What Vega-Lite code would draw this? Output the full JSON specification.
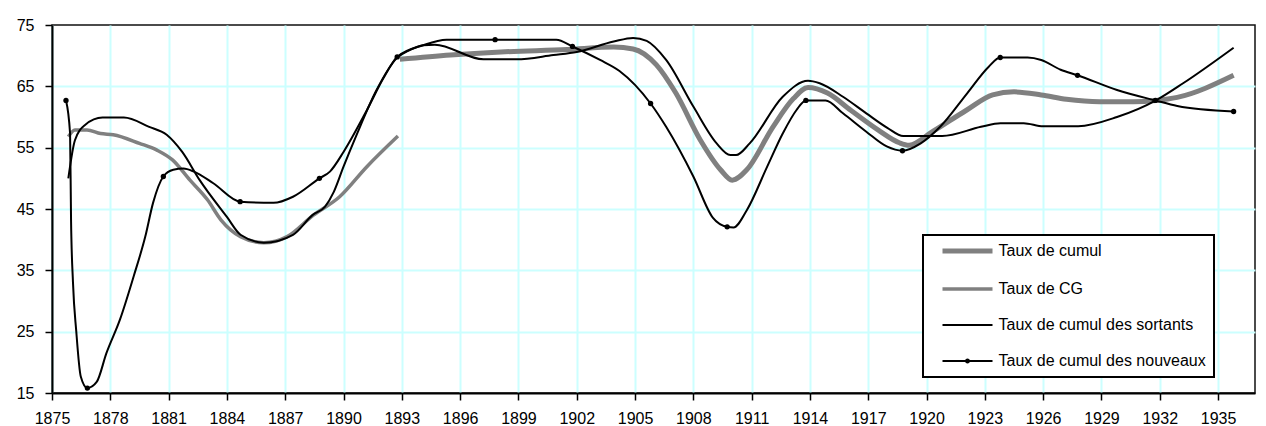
{
  "$schema": "https://vega.github.io/schema/vega-lite/v6.json",
  "width": 1203,
  "height": 368,
  "autosize": {"type": "none"},
  "padding": {"left": 52, "top": 25, "right": 11, "bottom": 33},
  "background": "white",
  "config": {
    "font": "Liberation Sans",
    "view": {"stroke": "#111111", "strokeWidth": 1.5},
    "axis": {
      "grid": true,
      "gridColor": "#ccffff",
      "gridWidth": 2,
      "domainColor": "#000000",
      "domainWidth": 2,
      "tickColor": "#000000",
      "tickSize": 7,
      "tickWidth": 1.5,
      "labelFontSize": 16,
      "labelColor": "#000000",
      "labelFont": "Liberation Sans",
      "title": null
    }
  },
  "datasets": {
    "series": [
      {"serie": "Taux de cumul", "annee": 1892.9, "taux": 69.4},
      {"serie": "Taux de cumul", "annee": 1895.5, "taux": 70.1},
      {"serie": "Taux de cumul", "annee": 1898.1, "taux": 70.6},
      {"serie": "Taux de cumul", "annee": 1901.5, "taux": 71.0},
      {"serie": "Taux de cumul", "annee": 1903.9, "taux": 71.4},
      {"serie": "Taux de cumul", "annee": 1904.9, "taux": 71.1},
      {"serie": "Taux de cumul", "annee": 1906.1, "taux": 68.5},
      {"serie": "Taux de cumul", "annee": 1907.1, "taux": 63.9},
      {"serie": "Taux de cumul", "annee": 1908.35, "taux": 56.3},
      {"serie": "Taux de cumul", "annee": 1909.4, "taux": 51.4},
      {"serie": "Taux de cumul", "annee": 1910.0, "taux": 49.7},
      {"serie": "Taux de cumul", "annee": 1910.75, "taux": 51.4},
      {"serie": "Taux de cumul", "annee": 1912.1, "taux": 58.4},
      {"serie": "Taux de cumul", "annee": 1913.15, "taux": 63.0},
      {"serie": "Taux de cumul", "annee": 1913.9, "taux": 64.8},
      {"serie": "Taux de cumul", "annee": 1914.9, "taux": 63.9},
      {"serie": "Taux de cumul", "annee": 1916.1, "taux": 61.1},
      {"serie": "Taux de cumul", "annee": 1917.5, "taux": 57.9},
      {"serie": "Taux de cumul", "annee": 1918.6, "taux": 55.8},
      {"serie": "Taux de cumul", "annee": 1919.1, "taux": 55.4},
      {"serie": "Taux de cumul", "annee": 1920.3, "taux": 57.6},
      {"serie": "Taux de cumul", "annee": 1922.05, "taux": 61.1},
      {"serie": "Taux de cumul", "annee": 1923.4, "taux": 63.6},
      {"serie": "Taux de cumul", "annee": 1924.5, "taux": 64.1},
      {"serie": "Taux de cumul", "annee": 1925.9, "taux": 63.6},
      {"serie": "Taux de cumul", "annee": 1927.2, "taux": 62.9},
      {"serie": "Taux de cumul", "annee": 1928.9, "taux": 62.5},
      {"serie": "Taux de cumul", "annee": 1930.65, "taux": 62.5},
      {"serie": "Taux de cumul", "annee": 1931.8, "taux": 62.7},
      {"serie": "Taux de cumul", "annee": 1932.9, "taux": 63.2},
      {"serie": "Taux de cumul", "annee": 1935.8, "taux": 66.8},

      {"serie": "Taux de CG", "annee": 1875.84, "taux": 56.8},
      {"serie": "Taux de CG", "annee": 1876.18, "taux": 57.9},
      {"serie": "Taux de CG", "annee": 1876.8, "taux": 57.9},
      {"serie": "Taux de CG", "annee": 1877.5, "taux": 57.3},
      {"serie": "Taux de CG", "annee": 1878.15, "taux": 57.1},
      {"serie": "Taux de CG", "annee": 1879.5, "taux": 55.7},
      {"serie": "Taux de CG", "annee": 1880.4, "taux": 54.6},
      {"serie": "Taux de CG", "annee": 1881.2, "taux": 53.0},
      {"serie": "Taux de CG", "annee": 1882.1, "taux": 49.7},
      {"serie": "Taux de CG", "annee": 1883.0, "taux": 46.5},
      {"serie": "Taux de CG", "annee": 1883.7, "taux": 43.2},
      {"serie": "Taux de CG", "annee": 1884.7, "taux": 40.5},
      {"serie": "Taux de CG", "annee": 1885.9, "taux": 39.5},
      {"serie": "Taux de CG", "annee": 1887.1, "taux": 40.5},
      {"serie": "Taux de CG", "annee": 1888.45, "taux": 44.0},
      {"serie": "Taux de CG", "annee": 1889.8, "taux": 47.0},
      {"serie": "Taux de CG", "annee": 1891.2, "taux": 51.9},
      {"serie": "Taux de CG", "annee": 1892.8, "taux": 56.9},

      {"serie": "Taux de cumul des sortants", "annee": 1875.84, "taux": 50.0},
      {"serie": "Taux de cumul des sortants", "annee": 1876.18, "taux": 56.2},
      {"serie": "Taux de cumul des sortants", "annee": 1876.7, "taux": 58.7},
      {"serie": "Taux de cumul des sortants", "annee": 1877.6, "taux": 59.9},
      {"serie": "Taux de cumul des sortants", "annee": 1878.7, "taux": 59.9},
      {"serie": "Taux de cumul des sortants", "annee": 1880.0, "taux": 58.4},
      {"serie": "Taux de cumul des sortants", "annee": 1880.9, "taux": 57.1},
      {"serie": "Taux de cumul des sortants", "annee": 1881.7, "taux": 54.3},
      {"serie": "Taux de cumul des sortants", "annee": 1882.6, "taux": 49.7},
      {"serie": "Taux de cumul des sortants", "annee": 1884.0, "taux": 43.7},
      {"serie": "Taux de cumul des sortants", "annee": 1884.7, "taux": 40.8},
      {"serie": "Taux de cumul des sortants", "annee": 1885.9, "taux": 39.5},
      {"serie": "Taux de cumul des sortants", "annee": 1887.4, "taux": 40.8},
      {"serie": "Taux de cumul des sortants", "annee": 1888.4, "taux": 44.0},
      {"serie": "Taux de cumul des sortants", "annee": 1889.05, "taux": 45.4},
      {"serie": "Taux de cumul des sortants", "annee": 1889.5, "taux": 47.8},
      {"serie": "Taux de cumul des sortants", "annee": 1890.0, "taux": 51.9},
      {"serie": "Taux de cumul des sortants", "annee": 1890.7, "taux": 57.3},
      {"serie": "Taux de cumul des sortants", "annee": 1891.7, "taux": 64.4},
      {"serie": "Taux de cumul des sortants", "annee": 1892.74, "taux": 69.6},
      {"serie": "Taux de cumul des sortants", "annee": 1893.4, "taux": 70.9},
      {"serie": "Taux de cumul des sortants", "annee": 1894.1, "taux": 71.7},
      {"serie": "Taux de cumul des sortants", "annee": 1894.7, "taux": 71.8},
      {"serie": "Taux de cumul des sortants", "annee": 1897.2, "taux": 69.4},
      {"serie": "Taux de cumul des sortants", "annee": 1898.9, "taux": 69.4},
      {"serie": "Taux de cumul des sortants", "annee": 1900.8, "taux": 70.1},
      {"serie": "Taux de cumul des sortants", "annee": 1902.0, "taux": 70.6},
      {"serie": "Taux de cumul des sortants", "annee": 1903.9, "taux": 72.3},
      {"serie": "Taux de cumul des sortants", "annee": 1904.9, "taux": 72.9},
      {"serie": "Taux de cumul des sortants", "annee": 1905.6, "taux": 72.4},
      {"serie": "Taux de cumul des sortants", "annee": 1906.6, "taux": 69.3},
      {"serie": "Taux de cumul des sortants", "annee": 1908.0, "taux": 61.7},
      {"serie": "Taux de cumul des sortants", "annee": 1909.2, "taux": 55.7},
      {"serie": "Taux de cumul des sortants", "annee": 1909.9, "taux": 53.8},
      {"serie": "Taux de cumul des sortants", "annee": 1910.2, "taux": 53.8},
      {"serie": "Taux de cumul des sortants", "annee": 1910.9, "taux": 55.7},
      {"serie": "Taux de cumul des sortants", "annee": 1912.6, "taux": 63.3},
      {"serie": "Taux de cumul des sortants", "annee": 1913.9, "taux": 65.9},
      {"serie": "Taux de cumul des sortants", "annee": 1914.5, "taux": 65.5},
      {"serie": "Taux de cumul des sortants", "annee": 1915.7, "taux": 63.3},
      {"serie": "Taux de cumul des sortants", "annee": 1916.9, "taux": 60.6},
      {"serie": "Taux de cumul des sortants", "annee": 1918.0, "taux": 58.2},
      {"serie": "Taux de cumul des sortants", "annee": 1918.8, "taux": 56.9},
      {"serie": "Taux de cumul des sortants", "annee": 1920.8, "taux": 56.9},
      {"serie": "Taux de cumul des sortants", "annee": 1922.8, "taux": 58.4},
      {"serie": "Taux de cumul des sortants", "annee": 1923.8, "taux": 59.0},
      {"serie": "Taux de cumul des sortants", "annee": 1925.0, "taux": 59.0},
      {"serie": "Taux de cumul des sortants", "annee": 1926.0, "taux": 58.5},
      {"serie": "Taux de cumul des sortants", "annee": 1927.8, "taux": 58.5},
      {"serie": "Taux de cumul des sortants", "annee": 1929.8, "taux": 60.0},
      {"serie": "Taux de cumul des sortants", "annee": 1931.85, "taux": 62.8},
      {"serie": "Taux de cumul des sortants", "annee": 1933.2, "taux": 65.5},
      {"serie": "Taux de cumul des sortants", "annee": 1935.8, "taux": 71.3},

      {"serie": "Taux de cumul des nouveaux", "annee": 1875.72, "taux": 62.7, "election": true},
      {"serie": "Taux de cumul des nouveaux", "annee": 1875.93, "taux": 57.3},
      {"serie": "Taux de cumul des nouveaux", "annee": 1875.98, "taux": 43.2},
      {"serie": "Taux de cumul des nouveaux", "annee": 1876.08, "taux": 33.0},
      {"serie": "Taux de cumul des nouveaux", "annee": 1876.25, "taux": 25.0},
      {"serie": "Taux de cumul des nouveaux", "annee": 1876.48, "taux": 17.7},
      {"serie": "Taux de cumul des nouveaux", "annee": 1876.82, "taux": 15.8, "election": true},
      {"serie": "Taux de cumul des nouveaux", "annee": 1877.3, "taux": 16.8},
      {"serie": "Taux de cumul des nouveaux", "annee": 1877.8, "taux": 21.5},
      {"serie": "Taux de cumul des nouveaux", "annee": 1878.5, "taux": 27.0},
      {"serie": "Taux de cumul des nouveaux", "annee": 1879.2, "taux": 34.0},
      {"serie": "Taux de cumul des nouveaux", "annee": 1879.8, "taux": 40.5},
      {"serie": "Taux de cumul des nouveaux", "annee": 1880.2, "taux": 46.0},
      {"serie": "Taux de cumul des nouveaux", "annee": 1880.73, "taux": 50.3, "election": true},
      {"serie": "Taux de cumul des nouveaux", "annee": 1881.24, "taux": 51.4},
      {"serie": "Taux de cumul des nouveaux", "annee": 1881.76, "taux": 51.6},
      {"serie": "Taux de cumul des nouveaux", "annee": 1882.3, "taux": 51.1},
      {"serie": "Taux de cumul des nouveaux", "annee": 1883.3, "taux": 49.2},
      {"serie": "Taux de cumul des nouveaux", "annee": 1884.68, "taux": 46.2, "election": true},
      {"serie": "Taux de cumul des nouveaux", "annee": 1886.4, "taux": 46.0},
      {"serie": "Taux de cumul des nouveaux", "annee": 1887.4, "taux": 47.0},
      {"serie": "Taux de cumul des nouveaux", "annee": 1888.76, "taux": 50.0, "election": true},
      {"serie": "Taux de cumul des nouveaux", "annee": 1889.3, "taux": 51.1},
      {"serie": "Taux de cumul des nouveaux", "annee": 1890.0, "taux": 54.3},
      {"serie": "Taux de cumul des nouveaux", "annee": 1891.2, "taux": 61.1},
      {"serie": "Taux de cumul des nouveaux", "annee": 1892.05, "taux": 66.3},
      {"serie": "Taux de cumul des nouveaux", "annee": 1892.76, "taux": 69.8, "election": true},
      {"serie": "Taux de cumul des nouveaux", "annee": 1894.1, "taux": 71.7},
      {"serie": "Taux de cumul des nouveaux", "annee": 1895.3, "taux": 72.6},
      {"serie": "Taux de cumul des nouveaux", "annee": 1897.8, "taux": 72.6, "election": true},
      {"serie": "Taux de cumul des nouveaux", "annee": 1900.95, "taux": 72.6},
      {"serie": "Taux de cumul des nouveaux", "annee": 1901.78, "taux": 71.5, "election": true},
      {"serie": "Taux de cumul des nouveaux", "annee": 1903.2, "taux": 69.3},
      {"serie": "Taux de cumul des nouveaux", "annee": 1904.2, "taux": 67.5},
      {"serie": "Taux de cumul des nouveaux", "annee": 1905.8, "taux": 62.2, "election": true},
      {"serie": "Taux de cumul des nouveaux", "annee": 1906.6, "taux": 58.4},
      {"serie": "Taux de cumul des nouveaux", "annee": 1908.0, "taux": 50.3},
      {"serie": "Taux de cumul des nouveaux", "annee": 1909.0, "taux": 43.6},
      {"serie": "Taux de cumul des nouveaux", "annee": 1909.74, "taux": 42.1, "election": true},
      {"serie": "Taux de cumul des nouveaux", "annee": 1910.07, "taux": 42.0},
      {"serie": "Taux de cumul des nouveaux", "annee": 1910.75, "taux": 44.8},
      {"serie": "Taux de cumul des nouveaux", "annee": 1911.8, "taux": 51.9},
      {"serie": "Taux de cumul des nouveaux", "annee": 1912.6, "taux": 57.3},
      {"serie": "Taux de cumul des nouveaux", "annee": 1913.3, "taux": 61.1},
      {"serie": "Taux de cumul des nouveaux", "annee": 1913.79, "taux": 62.7, "election": true},
      {"serie": "Taux de cumul des nouveaux", "annee": 1914.8, "taux": 62.7},
      {"serie": "Taux de cumul des nouveaux", "annee": 1915.7, "taux": 60.6},
      {"serie": "Taux de cumul des nouveaux", "annee": 1916.9, "taux": 57.6},
      {"serie": "Taux de cumul des nouveaux", "annee": 1917.95, "taux": 55.2},
      {"serie": "Taux de cumul des nouveaux", "annee": 1918.76, "taux": 54.5, "election": true},
      {"serie": "Taux de cumul des nouveaux", "annee": 1919.7, "taux": 55.7},
      {"serie": "Taux de cumul des nouveaux", "annee": 1920.7, "taux": 58.4},
      {"serie": "Taux de cumul des nouveaux", "annee": 1922.1, "taux": 63.9},
      {"serie": "Taux de cumul des nouveaux", "annee": 1923.2, "taux": 68.2},
      {"serie": "Taux de cumul des nouveaux", "annee": 1923.79, "taux": 69.7, "election": true},
      {"serie": "Taux de cumul des nouveaux", "annee": 1925.2, "taux": 69.7},
      {"serie": "Taux de cumul des nouveaux", "annee": 1925.9, "taux": 69.3},
      {"serie": "Taux de cumul des nouveaux", "annee": 1926.9, "taux": 67.7},
      {"serie": "Taux de cumul des nouveaux", "annee": 1927.77, "taux": 66.8, "election": true},
      {"serie": "Taux de cumul des nouveaux", "annee": 1929.8, "taux": 64.4},
      {"serie": "Taux de cumul des nouveaux", "annee": 1931.77, "taux": 62.7, "election": true},
      {"serie": "Taux de cumul des nouveaux", "annee": 1932.9, "taux": 61.8},
      {"serie": "Taux de cumul des nouveaux", "annee": 1935.8, "taux": 60.9, "election": true}
    ]
  },
  "data": {"name": "series"},
  "encoding": {
    "x": {
      "field": "annee", "type": "quantitative",
      "scale": {"domain": [1875, 1936.9], "nice": false, "zero": false},
      "axis": {
        "values": [1875, 1878, 1881, 1884, 1887, 1890, 1893, 1896, 1899, 1902, 1905, 1908, 1911, 1914, 1917, 1920, 1923, 1926, 1929, 1932, 1935],
        "format": "d", "labelPadding": 10, "labelFlush": false
      }
    },
    "y": {
      "field": "taux", "type": "quantitative",
      "scale": {"domain": [15, 75], "nice": false, "zero": false},
      "axis": {
        "values": [15, 25, 35, 45, 55, 65, 75],
        "labelPadding": 11,
        "gridColor": {"condition": {"test": "datum.value === 75 || datum.value === 15", "value": "transparent"}, "value": "#ccffff"}
      }
    }
  },
  "layer": [
    {
      "transform": [{"filter": "datum.serie === 'Taux de cumul'"}],
      "mark": {"type": "line", "interpolate": "monotone", "strokeWidth": 5},
      "encoding": {
        "color": {
          "field": "serie", "type": "nominal",
          "scale": {
            "domain": ["Taux de cumul", "Taux de CG", "Taux de cumul des sortants", "Taux de cumul des nouveaux"],
            "range": ["#808080", "#808080", "#000000", "#000000"]
          },
          "legend": {
            "title": null,
            "orient": "none",
            "legendX": 871,
            "legendY": 210,
            "fillColor": "white",
            "strokeColor": "#000000",
            "padding": 8,
            "symbolSize": 2500,
            "symbolOffset": 28.5,
            "labelFontSize": 16,
            "labelColor": "#000000",
            "labelOffset": 23,
            "labelLimit": 400,
            "rowPadding": 20,
            "encode": {
              "legend": {"update": {"strokeWidth": {"value": 2}}},
              "symbols": {
                "update": {
                  "shape": {"signal": "datum.value === 'Taux de cumul des nouveaux' ? 'M-1,0L1,0M-0.06,0A0.06,0.06,0,1,1,0.06,0A0.06,0.06,0,1,1,-0.06,0Z' : 'M-1,0L1,0'"},
                  "strokeWidth": {"signal": "datum.value === 'Taux de cumul' ? 5 : (datum.value === 'Taux de CG' ? 3.5 : 2)"},
                  "fill": {"value": "#000000"},
                  "opacity": {"value": 1}
                }
              }
            }
          }
        }
      }
    },
    {
      "transform": [{"filter": "datum.serie === 'Taux de CG'"}],
      "mark": {"type": "line", "interpolate": "monotone", "strokeWidth": 3.5},
      "encoding": {"color": {"field": "serie", "type": "nominal"}}
    },
    {
      "transform": [{"filter": "datum.serie === 'Taux de cumul des sortants'"}],
      "mark": {"type": "line", "interpolate": "monotone", "strokeWidth": 2},
      "encoding": {"color": {"field": "serie", "type": "nominal"}}
    },
    {
      "transform": [{"filter": "datum.serie === 'Taux de cumul des nouveaux'"}],
      "mark": {"type": "line", "interpolate": "monotone", "strokeWidth": 2},
      "encoding": {"color": {"field": "serie", "type": "nominal"}}
    },
    {
      "transform": [{"filter": "datum.election === true"}],
      "mark": {"type": "point", "filled": true, "color": "#000000", "size": 28, "opacity": 1}
    }
  ]
}
